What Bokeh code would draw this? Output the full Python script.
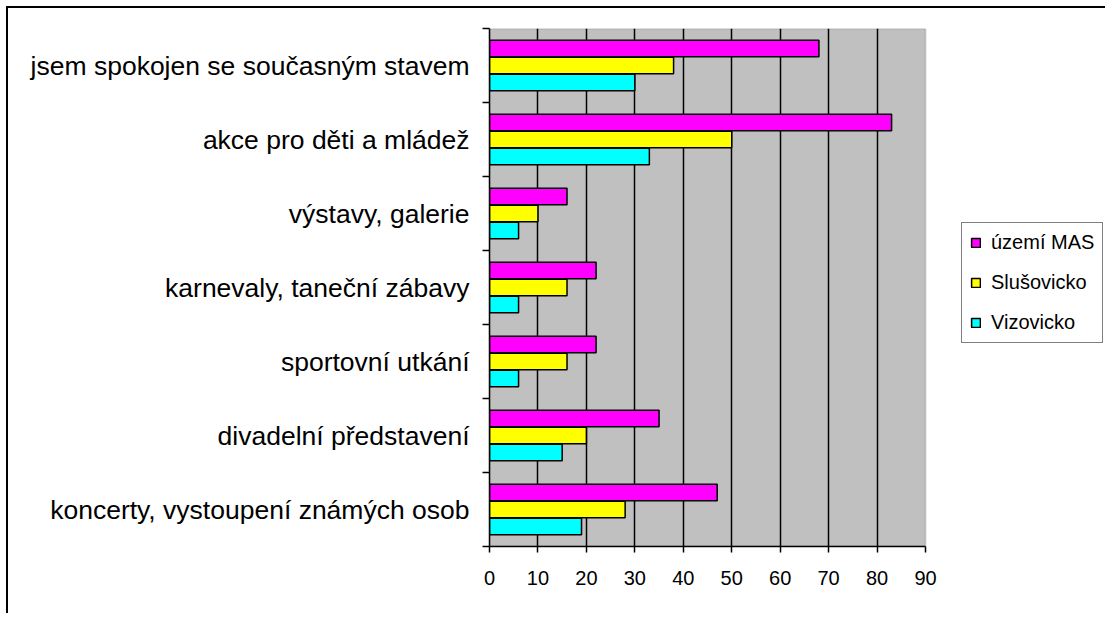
from bokeh.plotting import figure
from bokeh.models import FixedTicker, Range1d, ColumnDataSource, Legend, LegendItem, BoxAnnotation
from bokeh.transform import dodge
from bokeh.embed import file_html
from bokeh.resources import INLINE

# categories listed bottom -> top
categories = [
    "koncerty, vystoupení známých osob",
    "divadelní představení",
    "sportovní utkání",
    "karnevaly, taneční zábavy",
    "výstavy, galerie",
    "akce pro děti a mládež",
    "jsem spokojen se současným stavem",
]
uzemi_mas = [47, 35, 22, 22, 16, 83, 68]
slusovicko = [28, 20, 16, 16, 10, 50, 38]
vizovicko = [19, 15, 6, 6, 6, 33, 30]
series_names = ["území MAS", "Slušovicko", "Vizovicko"]
series_colors = ["#FF00FF", "#FFFF00", "#00FFFF"]
x_ticks = [0, 10, 20, 30, 40, 50, 60, 70, 80, 90]

pos = [i + 0.5 for i in range(len(categories))]
src = ColumnDataSource(dict(y=pos, a=uzemi_mas, b=slusovicko, c=vizovicko))

FONT = "Liberation Sans"

# layout (pixels)
W, H = 1099, 607
LEFT, TOP = 481, 20
PLOT_W, PLOT_H = 436, 518
XMAX = x_ticks[-1]
frame_w = W - LEFT
x_end = XMAX * frame_w / PLOT_W

p = figure(width=W, height=H, output_backend="svg", toolbar_location=None,
           x_range=Range1d(0, x_end), y_range=Range1d(0, len(categories)),
           min_border_left=LEFT, min_border_right=0, min_border_top=TOP,
           min_border_bottom=H - TOP - PLOT_H)
p.styles = {"margin-left": "6px", "margin-top": "6px",
            "border-left": "2px solid black", "border-top": "2px solid black"}
p.background_fill_color = "white"
p.border_fill_color = "white"
p.outline_line_color = None

# gray plot area
p.add_layout(BoxAnnotation(left=0, right=XMAX, bottom=0, top=len(categories),
                           fill_color="#C0C0C0", fill_alpha=1,
                           line_color="#808080", line_width=2, level="image"))

bh = 0.225
offs = [0.23, 0.0, -0.23]
renderers = []
for col, off, color in zip(["a", "b", "c"], offs, series_colors):
    r = p.hbar(y=dodge("y", off, range=p.y_range), right=col, left=0, height=bh,
               source=src, fill_color=color, line_color="black", line_width=1.5)
    renderers.append(r)

# x axis
p.xaxis.ticker = FixedTicker(ticks=x_ticks)
p.xaxis.bounds = (0, XMAX)
p.xaxis.major_tick_out = 6
p.xaxis.major_tick_in = 0
p.xaxis.minor_tick_line_color = None
p.xaxis.axis_line_color = "black"
p.xaxis.axis_line_width = 1.5
p.xaxis.major_tick_line_width = 1.5
p.xaxis.major_label_text_font = FONT
p.xaxis.major_label_text_font_size = "20px"
p.xaxis.major_label_text_color = "black"
p.xaxis.major_label_standoff = 18

# y axis
p.yaxis.ticker = FixedTicker(ticks=pos, minor_ticks=list(range(len(categories) + 1)))
p.yaxis.major_label_overrides = {v: c for v, c in zip(pos, categories)}
p.yaxis.major_tick_out = 0
p.yaxis.major_tick_in = 0
p.yaxis.minor_tick_out = 7
p.yaxis.minor_tick_in = 0
p.yaxis.minor_tick_line_color = "black"
p.yaxis.minor_tick_line_width = 1.5
p.yaxis.axis_line_color = "black"
p.yaxis.axis_line_width = 1.5
p.yaxis.major_label_text_font = FONT
p.yaxis.major_label_text_font_size = "26.5px"
p.yaxis.major_label_text_color = "black"
p.yaxis.major_label_standoff = 13

# grids
p.ygrid.grid_line_color = None
p.xgrid.ticker = FixedTicker(ticks=x_ticks[1:-1])
p.xgrid.bounds = (0, len(categories))
p.xgrid.grid_line_color = "black"
p.xgrid.grid_line_width = 1.5
p.xgrid.level = "underlay"

legend = Legend(items=[LegendItem(label=n, renderers=[r]) for n, r in zip(series_names, renderers)],
                location=(472, 203))
legend.border_line_color = "black"
legend.border_line_width = 1.5
legend.background_fill_color = "white"
legend.background_fill_alpha = 1
legend.label_text_font = FONT
legend.label_text_font_size = "20px"
legend.label_text_color = "black"
legend.glyph_width = 11
legend.glyph_height = 11
legend.label_standoff = 10
legend.padding = 8
legend.spacing = 17
legend.label_height = 22
legend.margin = 0
p.add_layout(legend, "center")

open("out.html", "w").write(file_html(p, INLINE))
